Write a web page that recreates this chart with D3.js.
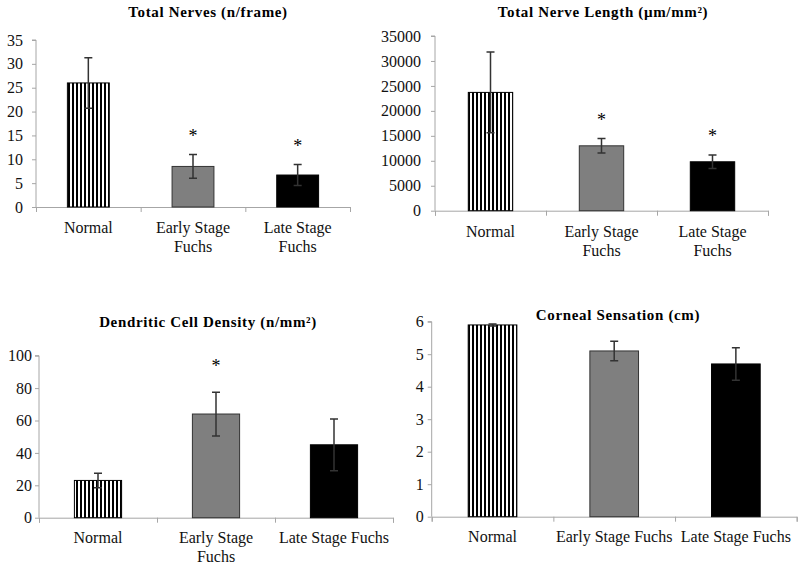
<!DOCTYPE html>
<html lang="en">
<head>
    <meta charset="utf-8">
    <title>Corneal nerve measures - Fuchs</title>
    <script src="https://d3js.org/d3.v7.min.js"></script>
    <style>
        body { margin: 0; background: #fff; }
        svg text { font-family: "Liberation Serif", "Times New Roman", serif; }
    </style>
</head>
<body>
<div id="chart"></div>
<script>
    // values
    const categories = ["Normal", "Early Stage Fuchs", "Late Stage Fuchs"];

    const nervesMean = [26, 8.5, 6.7];
    const nervesErr = [5.3, 2.5, 2.2];
    const nervesSig = [false, true, true];
    const nervesTicks = [0, 5, 10, 15, 20, 25, 30, 35];

    const lengthMean = [23700, 13000, 9800];
    const lengthErr = [8100, 1450, 1350];
    const lengthSig = [false, true, true];
    const lengthTicks = [0, 5000, 10000, 15000, 20000, 25000, 30000, 35000];

    const dcMean = [23, 64, 45];
    const dcErr = [4.5, 13.5, 16];
    const dcSig = [false, true, false];
    const dcTicks = [0, 20, 40, 60, 80, 100];

    const sensMean = [5.9, 5.1, 4.7];
    const sensErr = [0.03, 0.3, 0.5];
    const sensSig = [false, false, false];
    const sensTicks = [0, 1, 2, 3, 4, 5, 6];

    const wrapBoth = [["Normal"], ["Early Stage", "Fuchs"], ["Late Stage", "Fuchs"]];
    const wrapEarly = [["Normal"], ["Early Stage", "Fuchs"], ["Late Stage Fuchs"]];
    const noWrap = [["Normal"], ["Early Stage Fuchs"], ["Late Stage Fuchs"]];

    const width = 800, height = 565;
    const serif = "Liberation Serif";
    const svg = d3.select("#chart").append("svg")
        .attr("width", width).attr("height", height)
        .style("display", "block");

    // vertical stripes for the Normal bars
    const defs = svg.append("defs");
    const pat = defs.append("pattern")
        .attr("id", "stripes")
        .attr("patternUnits", "userSpaceOnUse")
        .attr("width", 4).attr("height", 10);
    pat.append("rect").attr("width", 4).attr("height", 10).attr("fill", "#fff");
    pat.append("rect").attr("width", 2).attr("height", 10).attr("fill", "#000");

    const fills = ["url(#stripes)", "#7f7f7f", "#000"];
    const strokes = ["#000", "#333", "#000"];

    function panel(p) {
        const g = svg.append("g");

        const x = d3.scaleBand()
            .domain(categories)
            .range([p.left, p.right])
            .paddingInner(0.6)
            .paddingOuter(0.3);
        const step = (p.right - p.left) / categories.length;

        const y = d3.scaleLinear()
            .domain([0, d3.max(p.ticks)])
            .range([p.base, p.top]);

        // y axis
        const yAxis = g.append("g")
            .attr("transform", `translate(${p.left},0)`)
            .call(d3.axisLeft(y).tickValues(p.ticks).tickSize(4).tickPadding(p.pad).tickFormat(d3.format("d")))
            .attr("font-family", serif);
        yAxis.selectAll("line,path").attr("stroke", "#a6a6a6");
        yAxis.select(".domain").attr("d", `M-4,${p.top}H0V${p.base}`);
        yAxis.selectAll("text").attr("font-size", 16).attr("fill", "#111")
            .style("font-family", serif);

        // x axis with ticks between categories
        const xb = d3.scaleLinear().domain([0, categories.length]).range([p.left, p.right]);
        const xAxis = g.append("g")
            .attr("transform", `translate(0,${p.base})`)
            .call(d3.axisBottom(xb).tickValues(d3.range(categories.length + 1)).tickSize(5).tickFormat(""));
        xAxis.selectAll("line,path").attr("stroke", "#a6a6a6");

        // bars
        g.selectAll(".bar")
            .data(p.mean)
            .join("rect")
            .attr("class", "bar")
            .attr("x", (d, i) => x(categories[i]))
            .attr("width", x.bandwidth())
            .attr("y", d => y(d))
            .attr("height", d => p.base - y(d))
            .attr("fill", (d, i) => fills[i])
            .attr("stroke", (d, i) => strokes[i])
            .attr("stroke-width", 1);

        // error bars
        const cx = i => x(categories[i]) + x.bandwidth() / 2;
        const eb = g.append("g").attr("stroke", "#333").attr("stroke-width", 1.5).attr("fill", "none");
        p.mean.forEach((m, i) => {
            const e = p.err[i];
            eb.append("path")
                .attr("d", `M${cx(i)},${y(m - e)}V${y(m + e)}M${cx(i) - 4},${y(m + e)}H${cx(i) + 4}M${cx(i) - 4},${y(m - e)}H${cx(i) + 4}`);
        });

        // significance stars
        p.mean.forEach((m, i) => {
            if (!p.sig[i]) return;
            g.append("text")
                .attr("x", cx(i))
                .attr("y", y(m + p.err[i]) - p.starGap)
                .attr("text-anchor", "middle")
                .attr("font-size", 18)
                .style("font-family", serif)
                .text("*");
        });

        // category labels
        p.labels.forEach((lines, i) => {
            const t = g.append("text")
                .attr("x", p.left + step * (i + 0.5))
                .attr("y", p.labelY)
                .attr("text-anchor", "middle")
                .attr("font-size", 16)
                .attr("fill", "#111")
                .style("font-family", serif);
            lines.forEach((l, j) => {
                t.append("tspan")
                    .attr("x", p.left + step * (i + 0.5))
                    .attr("dy", j === 0 ? 0 : 18.5)
                    .text(l);
            });
        });

        // title
        g.append("text")
            .attr("x", p.titleX)
            .attr("y", p.titleY)
            .attr("text-anchor", "middle")
            .attr("font-size", 15)
            .attr("font-weight", "bold")
            .attr("letter-spacing", 0.65)
            .style("font-family", serif)
            .text(p.title);
    }

    panel({title: "Total Nerves (n/frame)", mean: nervesMean, err: nervesErr, sig: nervesSig,
        ticks: nervesTicks, labels: wrapBoth, pad: 9, starGap: 13,
        left: 36, right: 350, base: 207, top: 40, labelY: 233, titleX: 208, titleY: 17});

    panel({title: "Total Nerve Length (\u00b5m/mm\u00b2)", mean: lengthMean, err: lengthErr, sig: lengthSig,
        ticks: lengthTicks, labels: wrapBoth, pad: 10, starGap: 13,
        left: 435, right: 768, base: 210.7, top: 36, labelY: 237, titleX: 603, titleY: 17});

    panel({title: "Dendritic Cell Density (n/mm\u00b2)", mean: dcMean, err: dcErr, sig: dcSig,
        ticks: dcTicks, labels: wrapEarly, pad: 3, starGap: 20,
        left: 39, right: 393, base: 517.7, top: 355.7, labelY: 543, titleX: 208, titleY: 327});

    panel({title: "Corneal Sensation (cm)", mean: sensMean, err: sensErr, sig: sensSig,
        ticks: sensTicks, labels: noWrap, pad: 4, starGap: 13,
        left: 431.7, right: 796.7, base: 516.7, top: 321.7, labelY: 542, titleX: 618, titleY: 320});
</script>
</body>
</html>
